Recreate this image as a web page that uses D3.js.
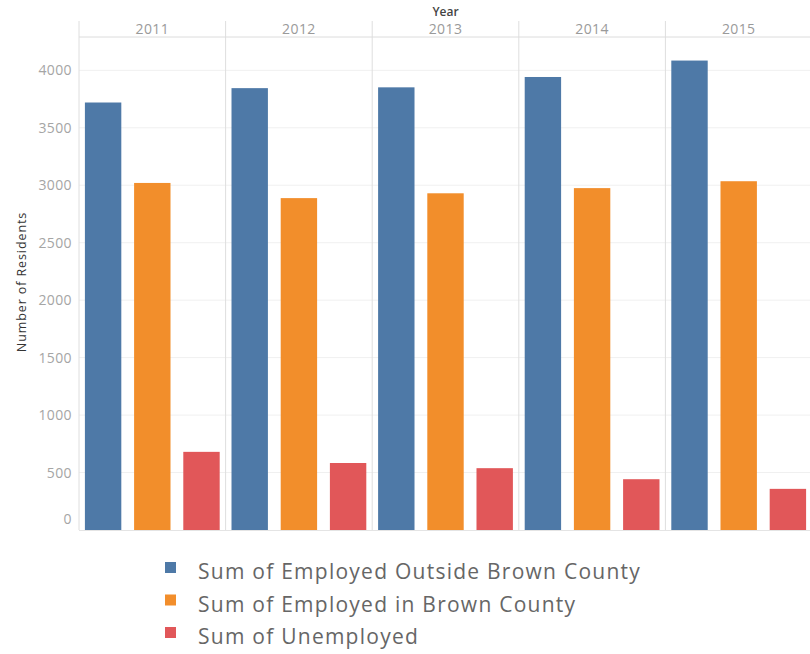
<!DOCTYPE html>
<html>
<head>
<meta charset="utf-8">
<script src="https://cdn.jsdelivr.net/npm/d3@7.9.0/dist/d3.min.js"></script>
<style>
  body { margin: 0; background: #fff; }
  svg { display: block; font-family: "Open Sans", "Noto Sans", sans-serif; }
</style>
</head>
<body>
<svg id="chart" width="810" height="654"></svg>
<script>
const years = ["2011", "2012", "2013", "2014", "2015"];
const seriesNames = [
  "Sum of Employed Outside Brown County",
  "Sum of Employed in Brown County",
  "Sum of Unemployed"
];
const outsideBrown = [3720, 3845, 3852, 3942, 4085];
const inBrown = [3020, 2888, 2930, 2975, 3035];
const unemployed = [680, 583, 538, 442, 358];
const yTicks = [0, 500, 1000, 1500, 2000, 2500, 3000, 3500, 4000];
const colors = ["#4e79a7", "#f28e2b", "#e15759"];

const svg = d3.select("#chart");
const plotLeft = 79, plotRight = 812, plotTop = 37, plotBottom = 530, headerTop = 21;

const data = years.map((y, i) => ({
  year: y,
  values: [outsideBrown[i], inBrown[i], unemployed[i]]
}));

const x0 = d3.scaleBand().domain(years).range([plotLeft, plotRight]).padding(0);
const x1 = d3.scaleBand().domain(d3.range(3))
    .range([0, x0.bandwidth()])
    .paddingInner(0.26)
    .paddingOuter(0.12);
const y = d3.scaleLinear().domain([0, 4290]).range([plotBottom, plotTop]);

// gridlines
svg.append("g")
  .selectAll("line")
  .data(yTicks.filter(d => d > 0))
  .join("line")
    .attr("x1", plotLeft).attr("x2", plotRight)
    .attr("y1", d => y(d)).attr("y2", d => y(d))
    .attr("stroke", "#f0f0f0");

// column dividers
svg.append("g")
  .selectAll("line")
  .data(years)
  .join("line")
    .attr("x1", d => x0(d)).attr("x2", d => x0(d))
    .attr("y1", headerTop).attr("y2", plotBottom)
    .attr("stroke", "#dedede");

svg.append("line")
  .attr("x1", plotLeft).attr("x2", plotRight)
  .attr("y1", plotTop).attr("y2", plotTop)
  .attr("stroke", "#dcdcdc");

svg.append("line")
  .attr("x1", plotLeft).attr("x2", plotRight)
  .attr("y1", plotBottom + 0.5).attr("y2", plotBottom + 0.5)
  .attr("stroke", "#e4e4e4");

// bars
svg.append("g")
  .selectAll("g")
  .data(data)
  .join("g")
    .attr("transform", d => `translate(${x0(d.year)},0)`)
  .selectAll("rect")
  .data(d => d.values.map((v, i) => ({ i, v })))
  .join("rect")
    .attr("x", d => x1(d.i))
    .attr("width", x1.bandwidth())
    .attr("y", d => y(d.v))
    .attr("height", d => plotBottom - y(d.v))
    .attr("fill", d => colors[d.i]);

// year header
svg.append("g")
  .selectAll("text")
  .data(years)
  .join("text")
    .attr("x", d => x0(d) + x0.bandwidth() / 2)
    .attr("y", 34)
    .attr("text-anchor", "middle")
    .attr("font-size", 14)
    .attr("letter-spacing", 0.4)
    .attr("fill", "#9a9a9a")
    .text(d => d);

svg.append("text")
  .attr("x", (plotLeft + plotRight) / 2)
  .attr("y", 16)
  .attr("text-anchor", "middle")
  .attr("font-size", 12)
  .attr("font-weight", 600)
  .attr("fill", "#444")
  .text("Year");

// y axis labels
svg.append("g")
  .selectAll("text")
  .data(yTicks)
  .join("text")
    .attr("x", 72)
    .attr("y", d => d === 0 ? y(d) - 6 : y(d) + 5)
    .attr("text-anchor", "end")
    .attr("font-size", 14)
    .attr("letter-spacing", 0.4)
    .attr("fill", "#a5a5a5")
    .text(d => d);

svg.append("text")
  .attr("transform", "translate(26,282) rotate(-90)")
  .attr("text-anchor", "middle")
  .attr("font-size", 12.5)
  .attr("letter-spacing", 0.9)
  .attr("fill", "#333")
  .text("Number of Residents");

// legend
const legend = svg.append("g")
  .selectAll("g")
  .data(seriesNames)
  .join("g")
    .attr("transform", (d, i) => `translate(165,${572 + i * 32.5})`);

legend.append("rect")
  .attr("x", 0).attr("y", -10)
  .attr("width", 11).attr("height", 11)
  .attr("fill", (d, i) => colors[i]);

legend.append("text")
  .attr("x", 33)
  .attr("y", 7)
  .attr("font-size", 21)
  .attr("letter-spacing", 1.25)
  .attr("fill", "#666")
  .text(d => d);
</script>
</body>
</html>
